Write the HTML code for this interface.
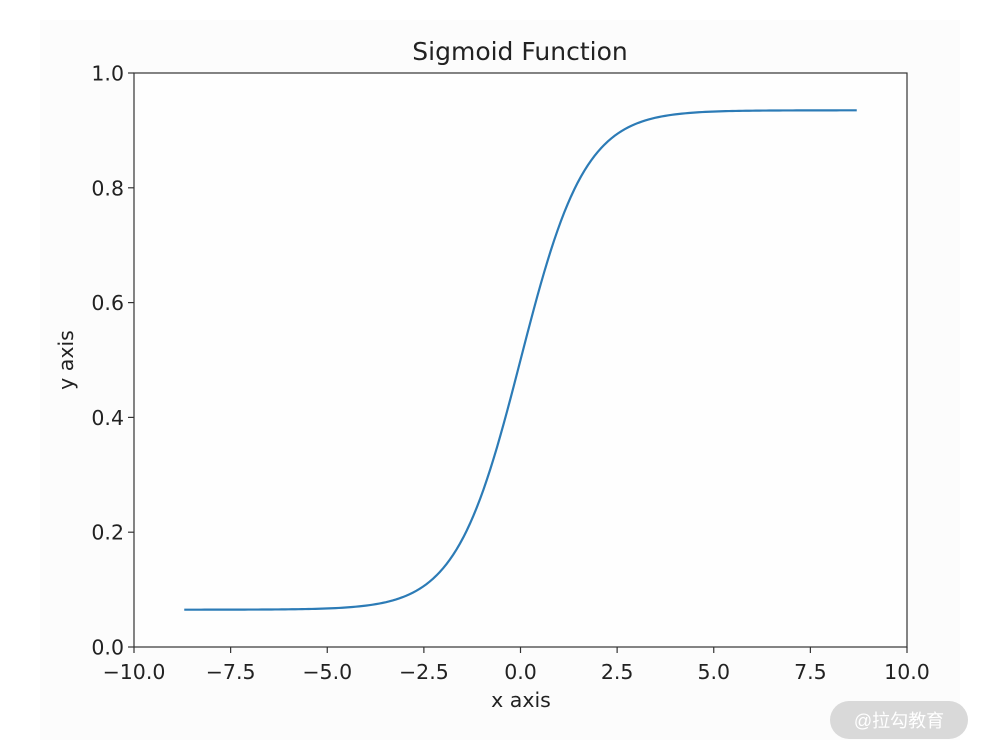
<!DOCTYPE html>
<html><head><meta charset="utf-8"><style>
html,body{margin:0;padding:0;background:#fff;}
svg{display:block;font-family:"DejaVu Sans","Liberation Sans",sans-serif;}
</style></head><body>
<svg id="s" width="981" height="753" viewBox="0 0 981 753">
<rect x="0" y="0" width="981" height="753" fill="#fff"/>
<rect x="40" y="20" width="920" height="720" fill="#fcfcfc"/>
<rect x="134" y="73" width="773" height="574" fill="#fefefe"/>
<text x="520" y="60" font-size="25" text-anchor="middle" fill="#222">Sigmoid Function</text>
<g id="ticks" stroke="#333" stroke-width="1.2"></g>
<g id="labels" font-size="20.5" fill="#222"></g>
<path id="curve" fill="none" stroke="#2c7bb6" stroke-width="2.2"/>
<rect x="134" y="73" width="773" height="574" fill="none" stroke="#333" stroke-width="1.2"/>
<text x="521" y="707" font-size="20.5" text-anchor="middle" fill="#222">x axis</text>
<text transform="translate(73,360) rotate(-90)" font-size="20.5" text-anchor="middle" fill="#222">y axis</text>
<rect x="830" y="701" width="138" height="38" rx="19" fill="#d9d9d9"/>
<text x="899" y="727" font-size="18" text-anchor="middle" fill="#fff" font-family="'Liberation Sans','Noto Sans CJK SC',sans-serif">@拉勾教育</text>
</svg>
<script>
var X=function(v){return 520.5+v*38.65},Y=function(v){return 647-v*574};
var t=document.getElementById('ticks'),l=document.getElementById('labels'),ns='http://www.w3.org/2000/svg';
function el(n,a,p,txt){var e=document.createElementNS(ns,n);for(var k in a)e.setAttribute(k,a[k]);if(txt)e.textContent=txt;p.appendChild(e);}
for(var i=-4;i<=4;i++){var v=i*2.5,x=X(v);el('line',{x1:x,x2:x,y1:647,y2:653},t);
var s=v.toFixed(1).replace('-','\u2212');el('text',{x:x,y:679,'text-anchor':'middle'},l,s);}
for(var j=0;j<=5;j++){var v=j*0.2,y=Y(v);el('line',{x1:128,x2:134,y1:y,y2:y},t);
el('text',{x:124,y:y+7.5,'text-anchor':'end'},l,v.toFixed(1));}
var d='';for(var k=0;k<=200;k++){var x=-8.7+17.4*k/200,y=0.065+0.87/(1+Math.exp(-1.2*x));d+=(k?'L':'M')+X(x).toFixed(2)+' '+Y(y).toFixed(2);}
document.getElementById('curve').setAttribute('d',d);
</script>
</body></html>
